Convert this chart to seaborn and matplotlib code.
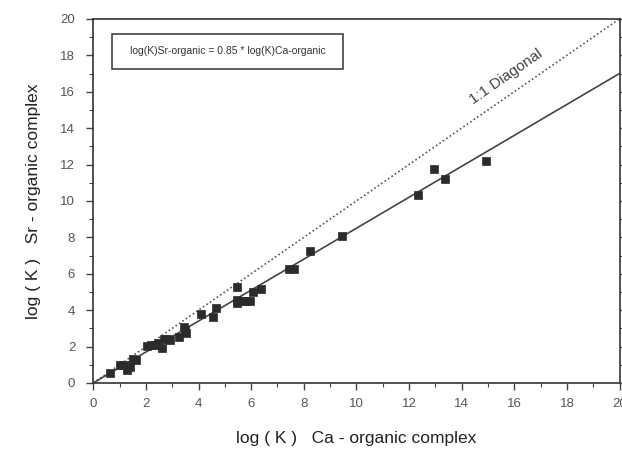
import matplotlib
matplotlib.use("Agg")
import matplotlib.pyplot as plt
import seaborn as sns
import numpy as np
import pandas as pd
from matplotlib.patches import Rectangle
from matplotlib.ticker import MultipleLocator

# Data
log_k_ca = [0.64, 1.02, 1.15, 1.27, 1.40, 1.49, 1.62,
            2.04, 2.20, 2.36, 2.45, 2.61, 2.68, 2.83, 2.93,
            3.25, 3.44, 3.50, 3.52,
            4.10, 4.56, 4.67,
            5.47, 5.47, 5.47, 5.66, 5.80, 5.95, 6.07, 6.38,
            7.45, 7.62, 8.24, 9.45,
            12.34, 12.94, 13.37, 14.91]
log_k_sr = [0.55, 0.97, 0.97, 0.73, 0.88, 1.34, 1.25,
            2.04, 2.07, 2.11, 2.17, 1.93, 2.44, 2.39, 2.36,
            2.52, 3.08, 2.90, 2.75,
            3.80, 3.64, 4.10,
            5.25, 4.58, 4.38, 4.48, 4.50, 4.52, 4.98, 5.18,
            6.25, 6.27, 7.25, 8.08,
            10.33, 11.74, 11.21, 12.21]
fit_slope = 0.85
line_x = [0, 20]
fit_y = [fit_slope * v for v in line_x]
diag_y = [0, 20]
eq_text = "log(K)Sr-organic = 0.85 * log(K)Ca-organic"
xlabel = "log ( K )   Ca - organic complex"
ylabel = "log ( K )   Sr - organic complex"
ticks = [0, 2, 4, 6, 8, 10, 12, 14, 16, 18, 20]

sns.set_style("white")
plt.rcParams['font.family'] = ['Liberation Sans', 'DejaVu Sans']

fig = plt.figure(figsize=(6.22, 4.5), dpi=100)
ax = fig.add_axes([0.150, 0.149, 0.846, 0.809])

df_pts = pd.DataFrame({"ca": log_k_ca, "sr": log_k_sr})
df_fit = pd.DataFrame({"x": line_x, "y": fit_y})
df_diag = pd.DataFrame({"x": line_x, "y": diag_y})

sns.lineplot(data=df_diag, x="x", y="y", ax=ax, color="#555555", lw=1.2,
             linestyle=(0, (1, 1.5)))
sns.lineplot(data=df_fit, x="x", y="y", ax=ax, color="#444444", lw=1.2)
sns.scatterplot(data=df_pts, x="ca", y="sr", ax=ax, marker="s", s=32,
                color="#2b2b2b", edgecolor="#2b2b2b", linewidth=0.5, zorder=3)

ax.set_xlim(0, 20)
ax.set_ylim(0, 20)
ax.set_xticks(ticks)
ax.set_yticks(ticks)
ax.xaxis.set_minor_locator(MultipleLocator(1))
ax.yaxis.set_minor_locator(MultipleLocator(1))
ax.tick_params(which="major", direction="out", length=5, width=1, color="#444444",
               labelsize=9.5, labelcolor="#555555", left=True, bottom=True, right=True)
ax.tick_params(which="minor", direction="out", length=3, width=0.8, color="#444444",
               left=True, bottom=True, right=True)
ax.tick_params(axis="y", pad=8)
ax.tick_params(axis="x", pad=6)

for sp in ax.spines.values():
    sp.set_color("#333333")
    sp.set_linewidth(1.2)

ax.set_xlabel(xlabel, fontsize=12.5, color="#222222", labelpad=15)
ax.set_ylabel(ylabel, fontsize=12.5, color="#222222", labelpad=14)

ax.add_patch(Rectangle((0.036, 0.863), 0.438, 0.096, transform=ax.transAxes,
                       fill=False, edgecolor="#333333", lw=1.1))
ax.text(0.255, 0.911, eq_text, transform=ax.transAxes, ha="center", va="center",
        fontsize=7.5, color="#333333")

ax.text(15.7, 16.8, "1:1 Diagonal", rotation=34.8, rotation_mode="anchor",
        ha="center", va="center", fontsize=11, color="#444444")

fig.savefig("out.png", dpi=100)
